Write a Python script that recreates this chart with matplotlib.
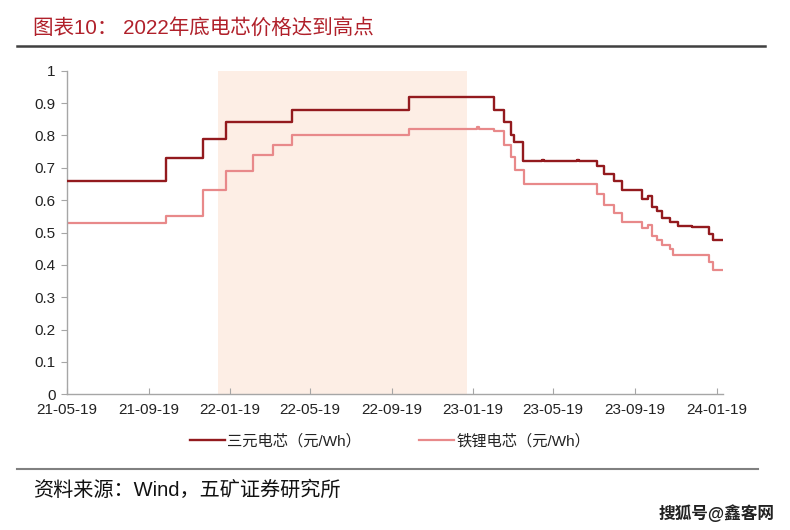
import numpy as np
import pandas as pd
import matplotlib
matplotlib.use("Agg")
import matplotlib.pyplot as plt
import matplotlib.dates as mdates
from matplotlib.lines import Line2D

plt.rcParams['font.family'] = ['Liberation Sans', 'Noto Sans CJK SC', 'DejaVu Sans']

# 三元电芯 price change points (元/Wh), step-post
ncm_dates = ['2021-05-19', '2021-10-15', '2021-12-09', '2022-01-13', '2022-04-22',
             '2022-10-14', '2023-02-19', '2023-03-06', '2023-03-17', '2023-03-21',
             '2023-04-04', '2023-05-02', '2023-05-05', '2023-06-24', '2023-06-27',
             '2023-07-23', '2023-08-03', '2023-08-18', '2023-08-30', '2023-09-29',
             '2023-10-08', '2023-10-14', '2023-10-21', '2023-10-29', '2023-11-10',
             '2023-11-22', '2023-12-13', '2024-01-07', '2024-01-14', '2024-01-28']
ncm_vals = [0.66, 0.73, 0.79, 0.84, 0.88,
            0.92, 0.88, 0.84, 0.80, 0.78,
            0.72, 0.725, 0.72, 0.725, 0.72,
            0.705, 0.68, 0.66, 0.63, 0.605,
            0.612, 0.58, 0.565, 0.545, 0.533,
            0.52, 0.516, 0.495, 0.476, 0.476]

# 铁锂电芯 price change points (元/Wh)
lfp_dates = ['2021-05-19', '2021-10-15', '2021-12-09', '2022-01-13', '2022-02-22',
             '2022-03-24', '2022-04-22', '2022-10-14', '2023-01-24', '2023-01-28',
             '2023-02-19', '2023-03-06', '2023-03-17', '2023-03-22', '2023-04-05',
             '2023-07-23', '2023-08-03', '2023-08-18', '2023-08-30', '2023-09-29',
             '2023-10-08', '2023-10-14', '2023-10-21', '2023-10-29', '2023-11-10',
             '2023-11-14', '2024-01-08', '2024-01-14', '2024-01-28']
lfp_vals = [0.53, 0.55, 0.63, 0.69, 0.74,
            0.77, 0.80, 0.82, 0.825, 0.82,
            0.815, 0.77, 0.733, 0.692, 0.651,
            0.62, 0.584, 0.559, 0.533, 0.515,
            0.522, 0.49, 0.476, 0.46, 0.45,
            0.43, 0.41, 0.384, 0.384]

tick_dates = ['2021-05-19', '2021-09-19', '2022-01-19', '2022-05-19', '2022-09-19',
              '2023-01-19', '2023-05-19', '2023-09-19', '2024-01-19']
shade_span = ['2022-01-01', '2023-01-10']

dark = '#931A1E'
light = '#E8898A'

fig = plt.figure(figsize=(7.9, 5.3), dpi=100)
ax = fig.add_axes([0.0842, 0.256, 0.8304, 0.6106])

ax.axvspan(pd.Timestamp(shade_span[0]), pd.Timestamp(shade_span[1]), ymin=0, ymax=1,
           color='#FDEEE5', lw=0, zorder=0)
ax.step(pd.to_datetime(ncm_dates), ncm_vals, where='post', color=dark, lw=1.7,
        label='三元电芯（元/Wh）', zorder=3)
ax.step(pd.to_datetime(lfp_dates), lfp_vals, where='post', color=light, lw=1.6,
        label='铁锂电芯（元/Wh）', zorder=2)

ax.set_xlim(pd.Timestamp('2021-05-19'), pd.Timestamp('2024-01-28'))
ax.set_ylim(0, 1)
ax.set_yticks(np.arange(0, 1.01, 0.1))
ax.set_yticklabels(['0', '0.1', '0.2', '0.3', '0.4', '0.5', '0.6', '0.7', '0.8', '0.9', '1'])
ax.set_xticks(pd.to_datetime(tick_dates))
ax.xaxis.set_major_formatter(mdates.DateFormatter('%y-%m-%d'))

for s in ['top', 'right']:
    ax.spines[s].set_visible(False)
for s in ['left', 'bottom']:
    ax.spines[s].set_color('#A6A6A6')
    ax.spines[s].set_linewidth(1)
ax.tick_params(axis='y', direction='out', length=4, color='#A6A6A6',
               labelsize=11, labelcolor='#222222', pad=4)
ax.tick_params(axis='x', direction='in', length=4, color='#A6A6A6',
               labelsize=11, labelcolor='#222222', pad=6)

fig.legend(loc='center', bbox_to_anchor=(0.494, 0.168), ncol=2, frameon=False,
           fontsize=11, handlelength=2.3, handletextpad=0.15, columnspacing=3.8,
           labelcolor='#222222')

fig.text(0.042, 0.947, '图表10： 2022年底电芯价格达到高点', fontsize=14.8, color='#B0202A',
         va='center', ha='left')
fig.add_artist(Line2D([17 / 790, 765 / 790], [1 - 46 / 530, 1 - 46 / 530],
                      color='#404040', lw=1.8))
fig.add_artist(Line2D([17 / 790, 758 / 790], [1 - 469 / 530, 1 - 469 / 530],
                      color='#808080', lw=1.5))
fig.text(0.042, 1 - 490 / 530, '资料来源：Wind，五矿证券研究所', fontsize=14.5,
         color='#111111', va='center', ha='left')
fig.text(0.98, 1 - 513 / 530, '搜狐号@鑫客网', fontsize=12, color='#222222',
         va='center', ha='right', fontweight='bold')

fig.savefig('out.png', dpi=100)
